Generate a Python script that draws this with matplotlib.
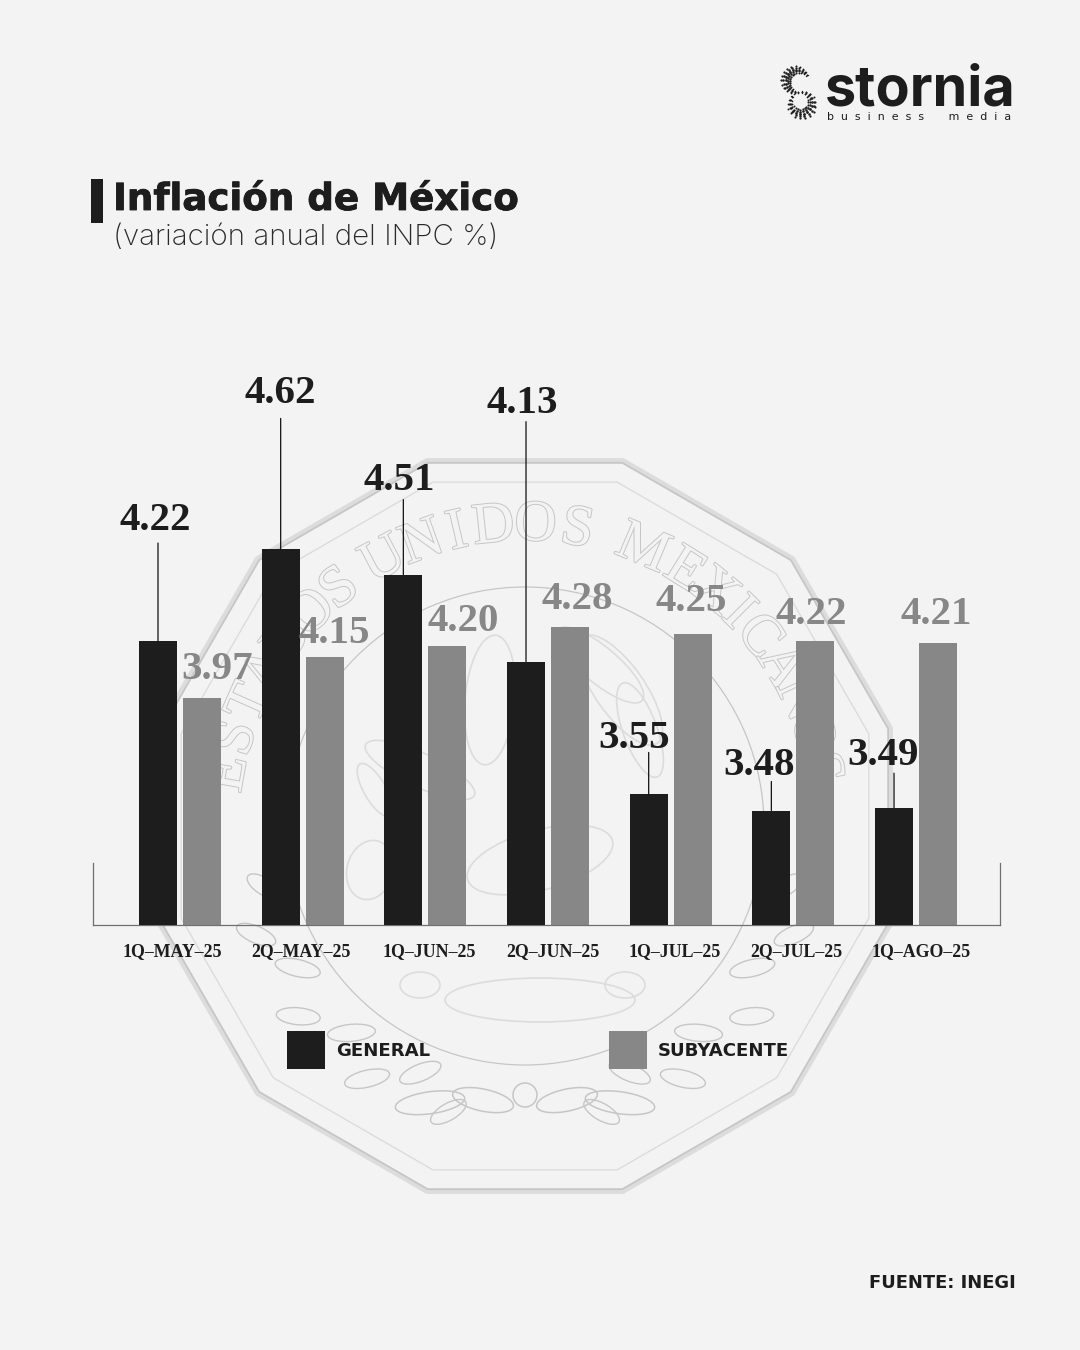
import numpy as np
import matplotlib
matplotlib.use("Agg")
import matplotlib.pyplot as plt
import matplotlib.patheffects as pe
from matplotlib.patches import Polygon, Circle, Ellipse, Rectangle

# ---------- data ----------
periods = ["1Q–MAY–25", "2Q–MAY–25", "1Q–JUN–25", "2Q–JUN–25",
           "1Q–JUL–25", "2Q–JUL–25", "1Q–AGO–25"]
general = [4.22, 4.62, 4.51, 4.13, 3.55, 3.48, 3.49]
subyacente = [3.97, 4.15, 4.20, 4.28, 4.25, 4.22, 4.21]

# ---------- styling / layout (pixels) ----------
W, H = 1080, 1350
BG, DARK, GREY, AXIS = "#f3f3f3", "#1d1d1d", "#878787", "#6f6f6f"
COIN, COIN2 = "#c6c6c6", "#dcdcdc"
SANS, SERIF, HEAVY = "Inter", "Liberation Serif", "DejaVu Sans"
gen_label_off = [(-3, 121), (0, 156), (-4, 94), (-4, 258), (-15, 56), (-12, 45), (-11, 53)]
gen_leader = [98, 131, 75, 240, 42, 29, 35]
sub_label_off = [(15, 29), (10, 24), (16, 24), (7, 28), (-1, 33), (-4, 27), (-2, 29)]
tick_dx = np.array([-8, -2, 4, 5, 4, 3, 5])
title_fx = [pe.withStroke(linewidth=0.6, foreground=DARK)]

fig = plt.figure(figsize=(W / 100, H / 100), dpi=100, facecolor=BG)

# ---------- pixel layer: coin, logo, titles, legend ----------
bg = fig.add_axes([0, 0, 1, 1], zorder=0)
bg.set_xlim(0, W)
bg.set_ylim(H, 0)
bg.axis("off")

cx, cy = 525, 826
ang = np.radians(np.arange(12) * 30 + 15)
for R, c, lw in [(378, COIN2, 4.0), (376, COIN, 1.2), (356, COIN2, 1.0)]:
    bg.add_patch(Polygon(np.c_[cx + R * np.sin(ang), cy - R * np.cos(ang)], closed=True,
                         fill=False, ec=c, lw=lw, joinstyle="round"))
bg.add_patch(Circle((cx, cy), 239, fill=False, ec=COIN, lw=0.9))

letters = "ESTADOS" + "UNIDOS" + "MEXICANOS"
deg = [-80, -73, -66, -59, -52, -45, -38, -28, -20, -13, -6, 2, 10, 23, 32, 39, 45, 51, 58, 65, 72, 79]
for ch, d in zip(letters, deg):
    a = np.radians(d)
    bg.text(cx + 300 * np.sin(a), cy - 300 * np.cos(a), ch, family=SERIF, fontsize=42,
            color=BG, rotation=-d, rotation_mode="anchor", ha="center", va="center",
            path_effects=[pe.withStroke(linewidth=1.4, foreground=COIN)])

# wreath leaves
for side in (-1, 1):
    for d, r, s in [(112, 290, 42), (122, 268, 46), (130, 296, 44), (140, 270, 48),
                    (148, 298, 46), (157, 268, 44), (103, 268, 38), (165, 296, 40)]:
        a = np.radians(d * side)
        bg.add_patch(Ellipse((cx + r * np.sin(a), cy - r * np.cos(a)), s, 17, angle=d * side + 45 * side,
                             fill=False, ec=COIN, lw=1.0))
# bow
for dx, w, tilt in [(-42, 62, 12), (42, 62, -12), (-95, 70, -8), (95, 70, 8)]:
    bg.add_patch(Ellipse((cx + dx, 1098 + abs(dx) * 0.05), w, 22, angle=tilt, fill=False, ec=COIN, lw=1.1))
bg.add_patch(Circle((cx, 1095), 12, fill=False, ec=COIN, lw=1.1))
# eagle and cactus hints
for x, y, w, h, t in [(620, 690, 130, 50, 55), (600, 665, 110, 36, 40), (640, 730, 100, 34, 70),
                      (490, 700, 50, 130, 5), (420, 770, 120, 34, 25), (375, 790, 60, 22, 60),
                      (540, 860, 150, 60, -15), (370, 870, 46, 60, 15), (540, 1000, 190, 44, 0),
                      (420, 985, 40, 26, 0), (625, 985, 40, 26, 0)]:
    bg.add_patch(Ellipse((x, y), w, h, angle=t, fill=False, ec=COIN2, lw=1.2))

# logo: dotted S mark, two thick-waisted arcs
for (ax0, ay0, r0, a0, a1) in [(797, 81, 11.5, 30, 275), (801, 103, 11, 85, -215)]:
    n = 16
    for j in range(n):
        s = j / (n - 1)
        th = np.radians(a0 + (a1 - a0) * s)
        thick = 0.8 + 3.7 * np.sin(np.pi * s)
        for k in (-2, -1, 0, 1, 2):
            r = r0 + k * thick / 2
            size = 3.6 * (0.35 + 0.65 * np.sin(np.pi * s)) * (1.15 - 0.2 * abs(k))
            bg.scatter(ax0 + r * np.cos(th), ay0 - r * np.sin(th), s=size, c=DARK, lw=0)

bg.text(825, 106, "stornia", family=SANS, fontsize=40.1, weight="bold", color=DARK, ha="left", va="baseline")
bg.text(827, 117, "b  u  s  i  n  e  s  s       m  e  d  i  a", family=HEAVY, fontsize=7.9, color=DARK, ha="left", va="center")

# title block
bg.add_patch(Rectangle((91, 179), 12, 44, fc=DARK, ec="none"))
bg.text(113, 210, "Inflación de México", family=HEAVY, fontsize=26.8, weight="bold", color=DARK, va="baseline",
        path_effects=title_fx)
bg.text(113, 245, "(variación anual del INPC %)", family=SANS, fontsize=21.3, weight="light", color="#2a2a2a", va="baseline")

# legend
for x, c, name in [(287, DARK, "GENERAL"), (609, GREY, "SUBYACENTE")]:
    bg.add_patch(Rectangle((x, 1031), 38, 38, fc=c, ec="none"))
    bg.text(x + 49, 1051, name, family=HEAVY, fontsize=13.1, weight="bold", color=DARK, va="center")

bg.text(1016, 1283, "FUENTE: INEGI", family=HEAVY, fontsize=12.9, weight="bold", color=DARK, ha="right", va="center")

# ---------- chart layer ----------
x0, x1, ybase, ytop = 93, 1000, 925, 350
ax = fig.add_axes([x0 / W, 1 - ybase / H, (x1 - x0) / W, (ybase - ytop) / H], zorder=1)
ax.patch.set_alpha(0)
step = 122.67
ax.set_xlim((x0 - 180) / step, (x1 - 180) / step)
y_min = 2.98
ax.set_ylim(y_min, y_min + (ybase - ytop) / 229)

x = np.arange(len(periods))
bw, off = 38 / step, 22 / step
ax.bar(x - off, np.array(general) - y_min, bw, bottom=y_min, color=DARK, zorder=3)
ax.bar(x + off, np.array(subyacente) - y_min, bw, bottom=y_min, color=GREY, zorder=3)

for i, v in enumerate(general):
    ax.annotate("", xy=(i - off, v), xytext=(0, gen_leader[i]), textcoords="offset pixels",
                arrowprops=dict(arrowstyle="-", color="#111111", lw=0.9, shrinkA=0, shrinkB=0))
    ax.annotate(f"{v:.2f}", xy=(i - off, v), xytext=gen_label_off[i], textcoords="offset pixels",
                family=SERIF, weight="bold", fontsize=29.5, color=DARK, ha="center", va="center", zorder=5)
for i, v in enumerate(subyacente):
    ax.annotate(f"{v:.2f}", xy=(i + off, v), xytext=sub_label_off[i], textcoords="offset pixels",
                family=SERIF, weight="bold", fontsize=29.5, color=GREY, ha="center", va="center", zorder=5)

ax.spines["top"].set_visible(False)
for s in ("left", "right"):
    ax.spines[s].set_bounds(y_min, y_min + 62 / 229)
for s in ("left", "right", "bottom"):
    ax.spines[s].set_color(AXIS)
    ax.spines[s].set_linewidth(0.9)
ax.set_yticks([])
ax.set_xticks(x + tick_dx / step)
ax.set_xticklabels(periods, family=SERIF, weight="bold", fontsize=12.9, color=DARK)
ax.tick_params(axis="x", length=0, pad=13)

fig.savefig("out.png", dpi=100, facecolor=BG)
